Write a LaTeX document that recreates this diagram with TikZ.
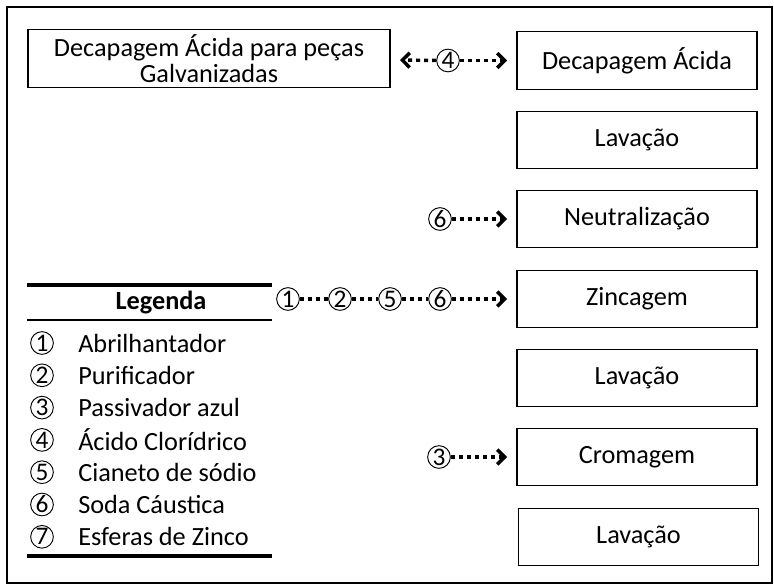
\documentclass[tikz,border=0pt]{standalone}
\usepackage{fontspec}
\setmainfont{Carlito}
\usepackage{tikz}
\usetikzlibrary{
    arrows.meta,
    positioning
}

\begin{document}
\begin{tikzpicture}[x=0.75pt, y=-0.75pt,
    font=\fontsize{19.7}{19}\selectfont,
    stage/.style={draw, line width=0.9pt, minimum width=180pt, minimum height=43pt, inner sep=0pt},
    chem/.style={draw, circle, line width=0.7pt, minimum size=17pt, inner sep=0pt, font=\fontsize{19}{19}\selectfont},
    dots/.style={line width=2.6pt, dash pattern=on 3pt off 3pt},
    feed/.style={dots, -{Straight Barb[length=5.5pt,width=11pt,line width=2.6pt]}, shorten >=7pt},
    rule/.style={line width=3pt}
]
    \useasboundingbox (0,0) rectangle (774,585);
    \draw[line width=1pt] (7,7) rectangle (772,583);

    \node[stage, minimum width=271.5pt, minimum height=44pt, align=center] (galv) at (209,58.5) {Decapagem Ácida para peças\\Galvanizadas};

    \node[stage] (decap)   at (637,60.5) {Decapagem Ácida};
    \node[stage] (lav1)    at (637,140)  {Lavação};
    \node[stage] (neutral) at (637,219)  {Neutralização};
    \node[stage] (zinc)    at (637,299)  {Zincagem};
    \node[stage] (lav2)    at (637,378)  {Lavação};
    \node[stage] (crom)    at (637,457)  {Cromagem};
    \node[stage] (lav3)    at (638.5,537) {Lavação};

    \node[chem] (c4)  at (448,60.5) {4};
    \draw[feed] (c4) -- (galv);
    \draw[feed] (c4) -- (decap);

    \node[chem] (c6a) at (440,219) {6};
    \draw[feed] (c6a) -- (neutral);

    \node[chem] (c1) at (288,299) {1};
    \node[chem] (c2) at (340,299) {2};
    \node[chem] (c5) at (390,299) {5};
    \node[chem] (c6b) at (440,299) {6};
    \draw[dots] (c1) -- (c2);
    \draw[dots] (c2) -- (c5);
    \draw[dots] (c5) -- (c6b);
    \draw[feed] (c6b) -- (zinc);

    \node[chem] (c3) at (439,457) {3};
    \draw[feed] (c3) -- (crom);

    \draw[rule] (27,285) -- (272,285);
    \node[font=\fontsize{19.7}{19.7}\selectfont\bfseries] (legend) at (161,303) {Legenda};
    \draw[line width=1pt] (27,320) -- (272,320);
    \foreach \n/\name [count=\i] in {1/Abrilhantador, 2/Purificador, 3/Passivador azul,
        4/Ácido Clorídrico, 5/Cianeto de sódio, 6/Soda Cáustica, 7/Esferas de Zinco}
    {
        \node[chem] (key\i) at (42,{343+32.3*(\i-1)}) {\n};
        \node[anchor=west, inner sep=0pt] (leg\i) at (78,{343+32.3*(\i-1)}) {\name};
    }
    \draw[rule] (27,556) -- (272,556);
\end{tikzpicture}
\end{document}
